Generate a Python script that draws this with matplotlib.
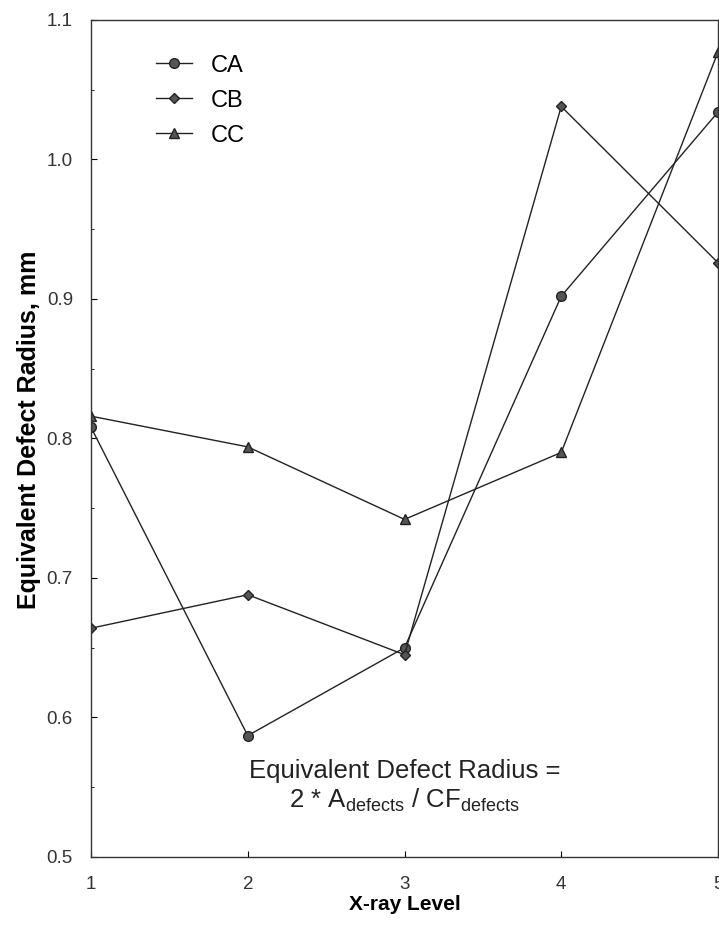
import matplotlib.pyplot as plt

plt.rcParams['font.family'] = ['Liberation Sans', 'DejaVu Sans']

xray_level = [1, 2, 3, 4, 5]
ca = [0.808, 0.587, 0.650, 0.902, 1.034]
cb = [0.664, 0.688, 0.645, 1.038, 0.926]
cc = [0.816, 0.794, 0.742, 0.790, 1.077]

x_ticks = [1, 2, 3, 4, 5]
y_ticks = [0.5, 0.6, 0.7, 0.8, 0.9, 1.0, 1.1]

fig = plt.figure(figsize=(7.19, 9.30), dpi=100)
ax = fig.add_axes([0.1266, 0.0785, 0.872, 0.900])

ax.plot(xray_level, ca, marker='o', markersize=7, color='#222222', mfc='#555555',
        mec='#222222', lw=1, label='CA')
ax.plot(xray_level, cb, marker='D', markersize=5.5, color='#222222', mfc='#555555',
        mec='#222222', lw=1, label='CB')
ax.plot(xray_level, cc, marker='^', markersize=7, color='#222222', mfc='#555555',
        mec='#222222', lw=1, label='CC')

ax.set_xlim(1, 5)
ax.set_ylim(0.5, 1.1)
ax.set_xticks(x_ticks)
ax.set_yticks(y_ticks)
ax.set_yticks([0.55, 0.65, 0.75, 0.85, 0.95, 1.05], minor=True)
ax.set_yticklabels([f"{v:.1f}" for v in y_ticks])
ax.tick_params(axis='both', which='major', direction='in', length=4, labelsize=13.5,
               labelcolor='#333333')
ax.tick_params(axis='x', which='major', pad=14)
ax.tick_params(axis='y', which='major', pad=13)
ax.tick_params(axis='y', which='minor', direction='in', length=2)

ax.set_xlabel("X-ray Level", fontsize=15, fontweight='bold', labelpad=1)
ax.set_ylabel("Equivalent Defect Radius, mm", fontsize=18, fontweight='bold')
ax.yaxis.set_label_coords(-0.08, 0.51)

for s in ax.spines.values():
    s.set_linewidth(1.0)
    s.set_color('#333333')

ax.text(3.0, 0.5566, "Equivalent Defect Radius =", ha='center', va='baseline',
        fontsize=18.5, color='#222222')
ax.text(3.0, 0.5358, r"2 * A$_{\mathregular{defects}}$ / CF$_{\mathregular{defects}}$",
        ha='center', va='baseline', fontsize=18.5, color='#222222')

ax.legend(loc='upper left', bbox_to_anchor=(0.07, 0.984), frameon=False, fontsize=17,
          handlelength=1.5, handletextpad=0.8, labelspacing=0.55)

fig.savefig("out.png", dpi=100)
